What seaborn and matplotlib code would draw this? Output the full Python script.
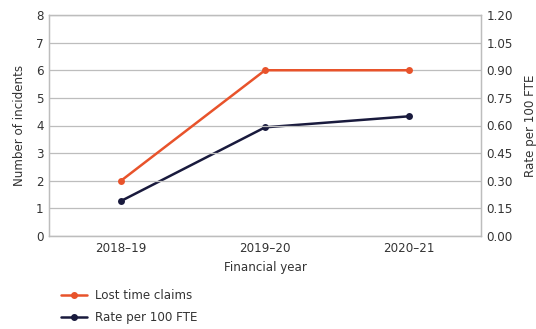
import matplotlib
matplotlib.use("Agg")
import matplotlib.pyplot as plt
import seaborn as sns
import pandas as pd
from matplotlib.lines import Line2D

years = ["2018–19", "2019–20", "2020–21"]
lost_time_claims = [2, 6, 6]
rate_per_100_fte = [0.19, 0.59, 0.65]
left_ticks = [0, 1, 2, 3, 4, 5, 6, 7, 8]
right_ticks = [0.0, 0.15, 0.30, 0.45, 0.60, 0.75, 0.90, 1.05, 1.20]

sns.set_theme(style="white")
plt.rcParams['font.family'] = ['DejaVu Sans']

orange = "#E8532B"
navy = "#191A3D"
grid_c = "#BDBDBD"
text_c = "#333333"
fs = 8.6

df = pd.DataFrame({"year": years, "claims": lost_time_claims, "rate": rate_per_100_fte})
df["x"] = range(len(years))

fig = plt.figure(figsize=(5.36, 3.29), dpi=100)
ax = fig.add_axes([49/536, 1-236/329, (481-49)/536, (236-15)/329])
ax2 = ax.twinx()

sns.lineplot(data=df, x="x", y="claims", ax=ax, color=orange, marker="o",
             markersize=5, markeredgewidth=0, linewidth=1.8, zorder=3)
sns.lineplot(data=df, x="x", y="rate", ax=ax2, color=navy, marker="o",
             markersize=5, markeredgewidth=0, linewidth=1.8, zorder=3)

ax.set_xlim(-0.5, 2.5)
ax.set_ylim(0, 8)
ax2.set_ylim(0, 1.2)
ax.set_yticks(left_ticks)
ax2.set_yticks(right_ticks)
ax2.set_yticklabels([f"{v:.2f}" for v in right_ticks])
ax.set_xticks(range(len(years)))
ax.set_xticklabels(years)

ax.grid(axis="y", color=grid_c, linewidth=0.9)
ax.set_axisbelow(True)
ax2.grid(False)
ax.set_zorder(2)
ax.patch.set_visible(False)
ax2.set_zorder(1)
ax2.patch.set_visible(False)

for a in (ax, ax2):
    for s in a.spines.values():
        s.set_color(grid_c)
        s.set_linewidth(0.9)
    a.tick_params(axis="both", length=0, labelsize=fs, labelcolor=text_c, pad=4)

ax.set_xlabel("Financial year", fontsize=fs, color=text_c, labelpad=5)
ax.set_ylabel("Number of incidents", fontsize=fs, color=text_c, labelpad=7)
ax2.set_ylabel("Rate per 100 FTE", fontsize=fs, color=text_c, rotation=90, labelpad=8)

handles = [Line2D([0], [0], color=orange, marker="o", markersize=4, linewidth=1.8),
           Line2D([0], [0], color=navy, marker="o", markersize=4, linewidth=1.8)]
fig.legend(handles, ["Lost time claims", "Rate per 100 FTE"], loc="upper left",
           bbox_to_anchor=(50/536, 1-278/329), frameon=False, fontsize=fs,
           handlelength=2.2, handletextpad=0.7, labelspacing=0.75, labelcolor=text_c)

fig.savefig("out.png", dpi=100)
